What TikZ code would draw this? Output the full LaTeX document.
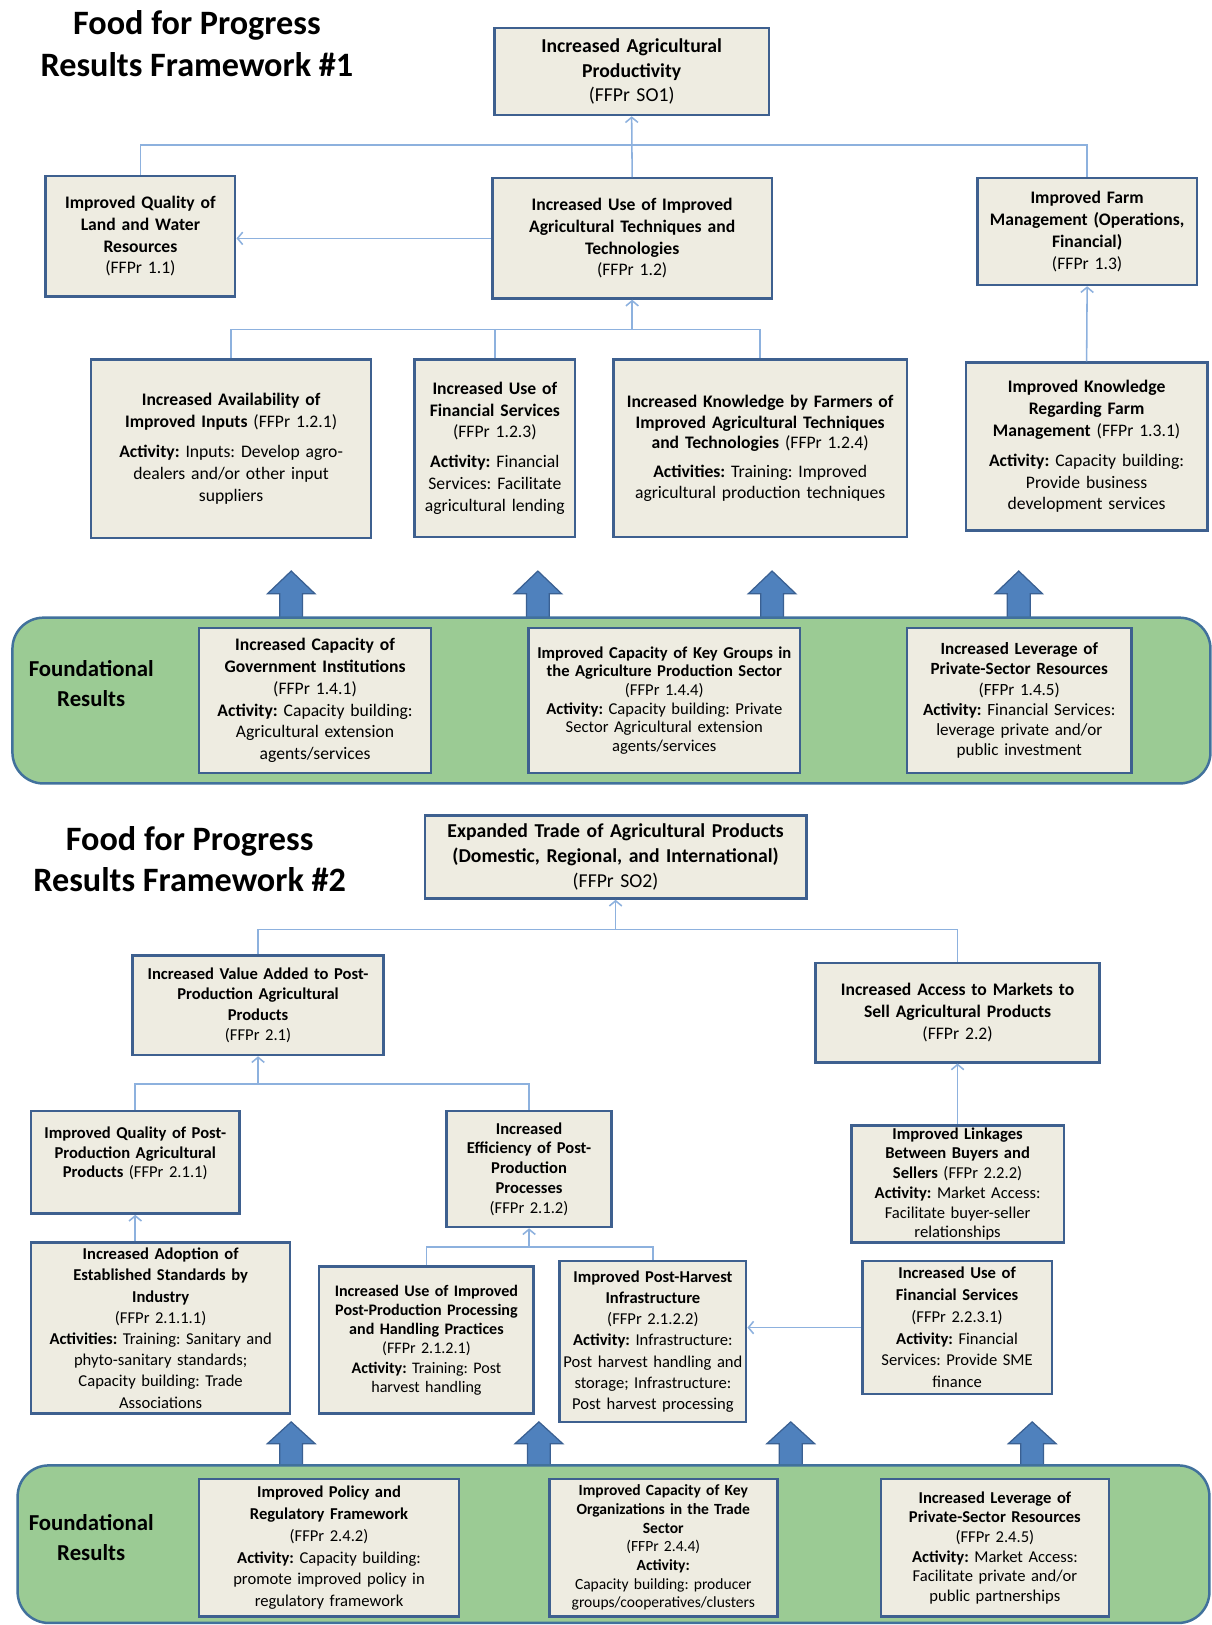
\documentclass[tikz,border=0pt]{standalone}
\usepackage{fontspec}
\setmainfont{Carlito}
\usetikzlibrary{arrows.meta}
\frenchspacing
\definecolor{boxfill}{RGB}{238,236,225}
\definecolor{boxline}{RGB}{62,96,143}
\definecolor{linkblue}{RGB}{141,177,222}
\definecolor{bandgreen}{RGB}{155,203,148}
\definecolor{bandline}{RGB}{65,113,156}
\definecolor{fatblue}{RGB}{79,129,189}
\definecolor{fatline}{RGB}{58,96,146}
\tikzset{
  box/.style={draw=boxline, fill=boxfill, line width=2.4pt, align=center, inner sep=0pt,
    font=\fontsize{17}{21}\selectfont},
  link/.style={draw=linkblue, line width=1.5pt, -{Straight Barb[length=5pt,width=12pt]}},
  plain/.style={draw=linkblue, line width=1.5pt},
  band/.style={draw=bandline, fill=bandgreen, line width=2.4pt, rounded corners=30pt},
  fatarrow/.style={draw=fatline, fill=fatblue, line width=1.2pt},
  heading/.style={align=center, font=\fontsize{33}{40}\selectfont\bfseries},
  found/.style={align=center, font=\fontsize{22}{29}\selectfont\bfseries},
}
\begin{document}
\begin{tikzpicture}[x=1pt,y=-1pt]
  \useasboundingbox (0,0) rectangle (1169,1568);

  % framework 1
  \node[heading] (t1) at (190,42) {Food for Progress\\Results Framework \#1};
  \node[box, font=\fontsize{19}{24}\selectfont, minimum width=265pt, minimum height=84pt, text width=255pt] (so1) at (609.5,69)
    {\textbf{Increased Agricultural\\Productivity}\\(FFPr SO1)};
  \node[box, minimum width=183pt, minimum height=116pt, text width=175pt] (n11) at (135.5,228)
    {\textbf{Improved Quality of\\Land and Water\\Resources}\\(FFPr 1.1)};
  \node[box, minimum width=270pt, minimum height=116pt, text width=260pt] (n12) at (610,230)
    {\textbf{Increased Use of Improved\\Agricultural Techniques and\\Technologies}\\(FFPr 1.2)};
  \node[box, minimum width=212pt, minimum height=103pt, text width=204pt] (n13) at (1049,223.5)
    {\textbf{Improved Farm\\Management (Operations,\\Financial)}\\(FFPr 1.3)};
  \node[box, minimum width=270pt, minimum height=172pt, text width=260pt] (n121) at (223,433)
    {\textbf{Increased Availability of\\Improved Inputs} (FFPr 1.2.1)\\[8pt]
     \textbf{Activity:} Inputs: Develop agro-\\dealers and/or other input\\suppliers};
  \node[box, minimum width=155pt, minimum height=171pt, text width=153pt] (n123) at (477.5,432.5)
    {\textbf{Increased Use of\\Financial Services}\\(FFPr 1.2.3)\\[8pt]
     \textbf{Activity:} Financial\\Services: Facilitate\\agricultural lending};
  \node[box, font=\fontsize{17}{20}\selectfont, minimum width=283pt, minimum height=171pt, text width=277pt] (n124) at (733.5,432.5)
    {\textbf{Increased Knowledge by Farmers of\\Improved Agricultural Techniques\\and Technologies} (FFPr 1.2.4)\\[8pt]
     \textbf{Activities:} Training: Improved\\agricultural production techniques};
  \node[box, minimum width=233pt, minimum height=162pt, text width=225pt] (n131) at (1048.5,431)
    {\textbf{Improved Knowledge\\Regarding Farm\\Management} (FFPr 1.3.1)\\[8pt]
     \textbf{Activity:} Capacity building:\\Provide business\\development services};

  \coordinate (j1) at (610,140);
  \coordinate (j12) at (610,318);
  \draw[link] (n12.north) -- (so1.south);
  \draw[plain] (n11.north) |- (j1) -| (n13.north);
  \draw[link] (n12.west) -- (n12.west -| n11.east);
  \draw[plain] (n121.north) |- (j12) -| (n124.north);
  \draw[plain] (n123.north) -- (n123.north |- j12);
  \draw[link] (j12) -- (n12.south);
  \draw[link] (n131.north) -- (n13.south);

  \foreach \x in {281,519,745,983}
    \draw[fatarrow] (\x-11,597) -- (\x-11,573) -- (\x-23,573) -- (\x,551)
      -- (\x+23,573) -- (\x+11,573) -- (\x+11,597) -- cycle;
  \draw[band] (12,596) rectangle (1168,756);
  \node[found] (fr1) at (88,660) {Foundational\\Results};
  \node[box, minimum width=224pt, minimum height=140pt, text width=216pt] (n141) at (304,676)
    {\textbf{Increased Capacity of\\Government Institutions}\\(FFPr 1.4.1)\\
     \textbf{Activity:} Capacity building:\\Agricultural extension\\agents/services};
  \node[box, font=\fontsize{16}{18}\selectfont, minimum width=262pt, minimum height=140pt, text width=256pt] (n144) at (641,676)
    {\textbf{Improved Capacity of Key Groups in\\the Agriculture Production Sector}\\(FFPr 1.4.4)\\
     \textbf{Activity:} Capacity building: Private\\Sector Agricultural extension\\agents/services};
  \node[box, font=\fontsize{16.5}{19.5}\selectfont, minimum width=217pt, minimum height=140pt, text width=211pt] (n145) at (983.5,676)
    {\textbf{Increased Leverage of\\Private-Sector Resources}\\(FFPr 1.4.5)\\
     \textbf{Activity:} Financial Services:\\leverage private and/or\\public investment};

  % framework 2
  \node[heading] (t2) at (183,829) {Food for Progress\\Results Framework \#2};
  \node[box, font=\fontsize{19}{24}\selectfont, minimum width=368pt, minimum height=80pt, text width=360pt] (so2) at (594,827)
    {\textbf{Expanded Trade of Agricultural Products\\(Domestic, Regional, and International)}\\(FFPr SO2)};
  \node[box, font=\fontsize{16}{19.5}\selectfont, minimum width=242pt, minimum height=96pt, text width=236pt] (n21) at (249,970)
    {\textbf{Increased Value Added to Post-\\Production Agricultural\\Products}\\(FFPr 2.1)};
  \node[box, minimum width=274pt, minimum height=96pt, text width=266pt] (n22) at (924,977)
    {\textbf{Increased Access to Markets to\\Sell Agricultural Products}\\(FFPr 2.2)};
  \node[box, font=\fontsize{16}{19}\selectfont, minimum width=201pt, minimum height=99pt, text width=197pt] (n211) at (130.5,1121.5)
    {\textbf{Improved Quality of Post-\\Production Agricultural\\Products} (FFPr 2.1.1)\\ \mbox{}};
  \node[box, font=\fontsize{16}{19}\selectfont, minimum width=159pt, minimum height=112pt, text width=153pt] (n212) at (510.5,1128)
    {\textbf{Increased\\Efficiency of Post-\\Production\\Processes}\\(FFPr 2.1.2)};
  \node[box, font=\fontsize{16}{19}\selectfont, minimum width=205pt, minimum height=113pt, text width=201pt] (n222) at (924,1142.5)
    {\textbf{Improved Linkages\\Between Buyers and\\Sellers} (FFPr 2.2.2)\\
     \textbf{Activity:} Market Access:\\Facilitate buyer-seller\\relationships};
  \node[box, font=\fontsize{16}{20.5}\selectfont, minimum width=250pt, minimum height=165pt, text width=246pt] (n2111) at (155,1281.5)
    {\textbf{Increased Adoption of\\Established Standards by\\Industry}\\(FFPr 2.1.1.1)\\
     \textbf{Activities:} Training: Sanitary and\\phyto-sanitary standards;\\Capacity building: Trade\\Associations};
  \node[box, font=\fontsize{15.5}{18.5}\selectfont, minimum width=207pt, minimum height=142pt, text width=203pt] (n2121) at (411.5,1293)
    {\textbf{Increased Use of Improved\\Post-Production Processing\\and Handling Practices}\\(FFPr 2.1.2.1)\\
     \textbf{Activity:} Training: Post\\harvest handling};
  \node[box, font=\fontsize{16}{20.5}\selectfont, minimum width=180pt, minimum height=155pt, text width=178pt] (n2122) at (630,1294.5)
    {\textbf{Improved Post-Harvest\\Infrastructure}\\(FFPr 2.1.2.2)\\
     \textbf{Activity:} Infrastructure:\\Post harvest handling and\\storage; Infrastructure:\\Post harvest processing};
  \node[box, font=\fontsize{16}{21}\selectfont, minimum width=183pt, minimum height=128pt, text width=179pt] (n2231) at (923.5,1281)
    {\textbf{Increased Use of\\Financial Services}\\(FFPr 2.2.3.1)\\
     \textbf{Activity:} Financial\\Services: Provide SME\\finance};

  \coordinate (j2) at (594,897);
  \coordinate (j21) at (249,1046);
  \coordinate (j212) at (510.5,1203);
  \draw[plain] (n21.north) |- (j2) -| (n22.north);
  \draw[link] (j2) -- (so2.south);
  \draw[plain] (n211.north) |- (j21) -| (n212.north);
  \draw[link] (j21) -- (n21.south);
  \draw[link] (n222.north) -- (n22.south);
  \draw[link] (n2111.north -| n211.south) -- (n211.south);
  \draw[plain] (n2121.north) |- (j212) -| (n2122.north);
  \draw[link] (j212) -- (n212.south);
  \draw[link] (n2231.west) -- (n2231.west -| n2122.east);

  \foreach \x in {281,520,763,996}
    \draw[fatarrow] (\x-11,1415) -- (\x-11,1393) -- (\x-23,1393) -- (\x,1372)
      -- (\x+23,1393) -- (\x+11,1393) -- (\x+11,1415) -- cycle;
  \draw[band] (17,1414) rectangle (1167,1566);
  \node[found] (fr2) at (88,1484) {Foundational\\Results};
  \node[box, font=\fontsize{16}{21}\selectfont, minimum width=251pt, minimum height=133pt, text width=245pt] (n242) at (317.5,1493.5)
    {\textbf{Improved Policy and\\Regulatory Framework}\\(FFPr 2.4.2)\\
     \textbf{Activity:} Capacity building:\\promote improved policy in\\regulatory framework};
  \node[box, font=\fontsize{15}{18}\selectfont, minimum width=220pt, minimum height=133pt, text width=216pt] (n244) at (640,1493.5)
    {\textbf{Improved Capacity of Key\\Organizations in the Trade\\Sector}\\(FFPr 2.4.4)\\
     \textbf{Activity:}\\Capacity building: producer\\groups/cooperatives/clusters};
  \node[box, font=\fontsize{16}{19}\selectfont, minimum width=220pt, minimum height=133pt, text width=216pt] (n245) at (960,1493.5)
    {\textbf{Increased Leverage of\\Private-Sector Resources}\\(FFPr 2.4.5)\\
     \textbf{Activity:} Market Access:\\Facilitate private and/or\\public partnerships};
\end{tikzpicture}
\end{document}
